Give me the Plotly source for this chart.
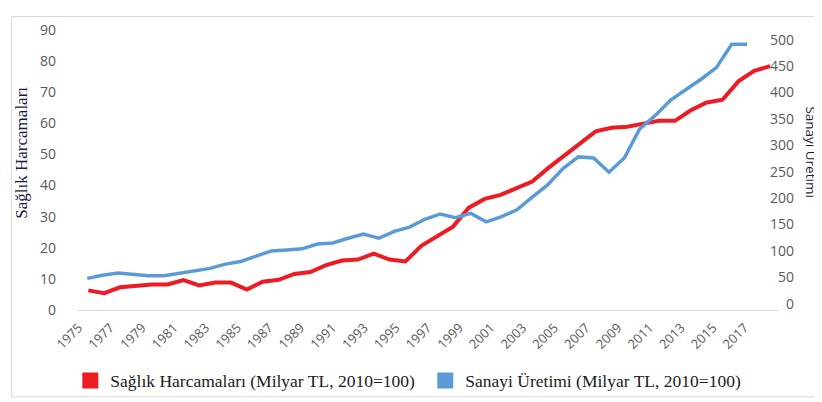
import plotly.graph_objects as go

years = list(range(1975, 2019))
saglik = [6.3, 5.4, 7.3, 7.9, 8.2, 8.2, 9.6, 7.9, 8.8, 8.8,
          6.6, 9.1, 9.7, 11.6, 12.2, 14.4, 15.9, 16.2, 18.1, 16.2,
          15.6, 20.6, 23.7, 26.8, 32.9, 35.7, 37.0, 39.1, 41.3, 45.6,
          49.6, 53.7, 57.4, 58.6, 58.9, 59.9, 60.8, 60.8, 64.2, 66.7,
          67.6, 73.5, 76.9, 78.4]
sanayi = [48, 54, 58, 56, 53, 53, 58, 62, 67, 75,
          80, 90, 100, 102, 104, 113, 115, 124, 132, 124,
          137, 145, 160, 170, 163, 171, 155, 165, 178, 202,
          225, 256, 278, 276, 249, 276, 331, 356, 385, 405,
          425, 447, 491, 491]
x_ticks = list(range(1975, 2018, 2))
x_tick_labels = [str(y) for y in x_ticks]
left_ticks = list(range(0, 91, 10))
right_ticks = list(range(0, 501, 50))
right_tick_labels = [("\u2007" * (3 - len(str(v)))) + str(v) for v in right_ticks]

RED = "#ed1c24"
BLUE = "#5b9bd5"
TICK_COLOR = "#595959"
LABEL_SHIFT = -0.6  # rotated labels end slightly left of their category

fig = go.Figure()
fig.add_trace(go.Scatter(x=years, y=saglik, mode="lines", line=dict(color=RED, width=4),
                         showlegend=False, xaxis="x", yaxis="y"))
fig.add_trace(go.Scatter(x=years, y=sanayi, mode="lines", line=dict(color=BLUE, width=3.5),
                         showlegend=False, xaxis="x2", yaxis="y2"))
# legend entries (square swatches)
fig.add_trace(go.Scatter(x=[None], y=[None], mode="markers",
                         marker=dict(symbol="square", size=17, color=RED),
                         name="Sağlık Harcamaları (Milyar TL, 2010=100)"))
fig.add_trace(go.Scatter(x=[None], y=[None], mode="markers",
                         marker=dict(symbol="square", size=17, color=BLUE),
                         name="Sanayi Üretimi (Milyar TL, 2010=100)"))

fig.update_layout(
    width=822, height=402,
    margin=dict(l=69.7, r=52, t=15, b=95.5),
    paper_bgcolor="white", plot_bgcolor="white",
    font=dict(family="Open Sans", color=TICK_COLOR),
    xaxis=dict(range=[1974.35, 2018.5], tickmode="array",
               tickvals=[t + LABEL_SHIFT for t in x_ticks],
               ticktext=x_tick_labels, tickangle=-45, showgrid=False,
               zeroline=False, showline=True, linecolor="#d9d9d9", linewidth=1,
               tickfont=dict(size=13, color=TICK_COLOR), ticks="", ticklabelstandoff=4),
    xaxis2=dict(range=[1974.394, 2020.016], overlaying="x", visible=False),
    yaxis=dict(range=[0, 90], tickmode="array", tickvals=left_ticks, showgrid=False,
               zeroline=False, showline=False, ticks="",
               tickfont=dict(size=14, color=TICK_COLOR), ticklabelstandoff=21),
    yaxis2=dict(range=[-11.8, 518.2], overlaying="y", side="right", tickmode="array",
                tickvals=right_ticks, ticktext=right_tick_labels, showgrid=False,
                zeroline=False, showline=False, ticks="",
                tickfont=dict(size=14, color=TICK_COLOR), ticklabelstandoff=-9),
    legend=dict(orientation="h", x=-0.011, xanchor="left", y=-0.252, yanchor="middle",
                font=dict(family="Liberation Serif", size=17.5, color="#1a1a1a"),
                entrywidth=310, bgcolor="rgba(0,0,0,0)"),
    shapes=[dict(type="rect", xref="paper", yref="paper", x0=-0.0952, x1=1.070,
                 y0=-0.31, y1=1.048, line=dict(color="#d9d9d9", width=1),
                 fillcolor="rgba(0,0,0,0)", layer="below")],
    annotations=[
        dict(text="Sağlık Harcamaları", xref="paper", yref="paper", x=-0.081, y=0.563,
             textangle=-90, showarrow=False, xanchor="center", yanchor="middle",
             font=dict(family="Liberation Serif", size=17, color="#1a1a40")),
        dict(text="Sanayi Üretimi", xref="paper", yref="paper", x=1.0471, y=0.563,
             textangle=90, showarrow=False, xanchor="center", yanchor="middle",
             font=dict(family="Open Sans", size=13.5, color="#1a1a40")),
    ],
)

fig.write_html("out.html")
